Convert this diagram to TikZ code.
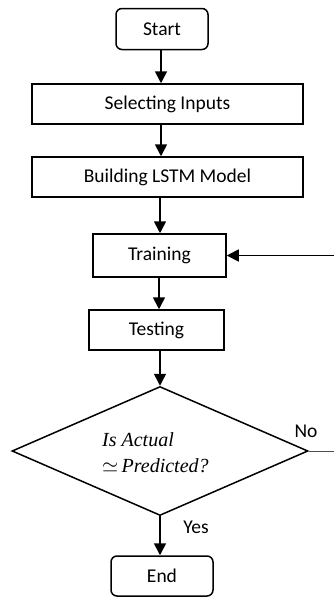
\documentclass[tikz,border=0pt]{standalone}
\usepackage{fontspec}
\setmainfont{Carlito}
\newfontfamily\qfont{Liberation Serif}
\usetikzlibrary{arrows.meta,shapes.geometric}
\begin{document}
\begin{tikzpicture}[x=1pt,y=-1pt,
  every node/.style={font=\fontsize{19.5}{23}\selectfont},
  box/.style={draw,line width=1.5pt,inner sep=0pt},
  arr/.style={line width=1.7pt,-{Triangle[width=12pt,length=12pt]}},
  lbl/.style={inner sep=0pt}]
\useasboundingbox (0,0) rectangle (334,597);
\node[box,rounded corners=6pt,minimum width=92,minimum height=41] (start) at (162,29) {Start};
\node[box,minimum width=271,minimum height=40] (sel) at (167.5,104) {Selecting Inputs};
\node[box,minimum width=271,minimum height=40] (build) at (167.5,177) {Building LSTM Model};
\node[box,minimum width=133,minimum height=43] (train) at (159.5,255.5) {Training};
\node[box,minimum width=135,minimum height=40] (test) at (156.5,330) {Testing};
\node[box,diamond,minimum width=296,minimum height=129] (dia) at (160,451) {};
\node[lbl,align=left,anchor=west,font=\fontsize{20}{26}\selectfont] (q) at (102,453) {{\qfont\itshape Is Actual}\\$\simeq$\,{\qfont\itshape Predicted?}};
\node[box,rounded corners=6pt,minimum width=102,minimum height=40] (end) at (162,576) {End};
\node[lbl] (no) at (306,431) {No};
\node[lbl] (yes) at (196,527) {Yes};
\coordinate (fbA) at (334,451);
\coordinate (fbB) at (334,255.5);
\draw[arr] (start.south -| 161,0) -- (161,0 |- sel.north);
\draw[arr] (sel.south -| 161,0) -- (161,0 |- build.north);
\draw[arr] (build.south -| 160,0) -- (160,0 |- train.north);
\draw[arr] (train.south -| 159,0) -- (159,0 |- test.north);
\draw[arr] (test.south -| 160,0) -- (dia.north);
\draw[arr] (dia.south) -- (160,0 |- end.north);
\draw[line width=0.8pt,black!70] (dia.east) -- (fbA);
\draw[arr] (fbB) -- (fbB -| train.east);
\end{tikzpicture}
\end{document}
